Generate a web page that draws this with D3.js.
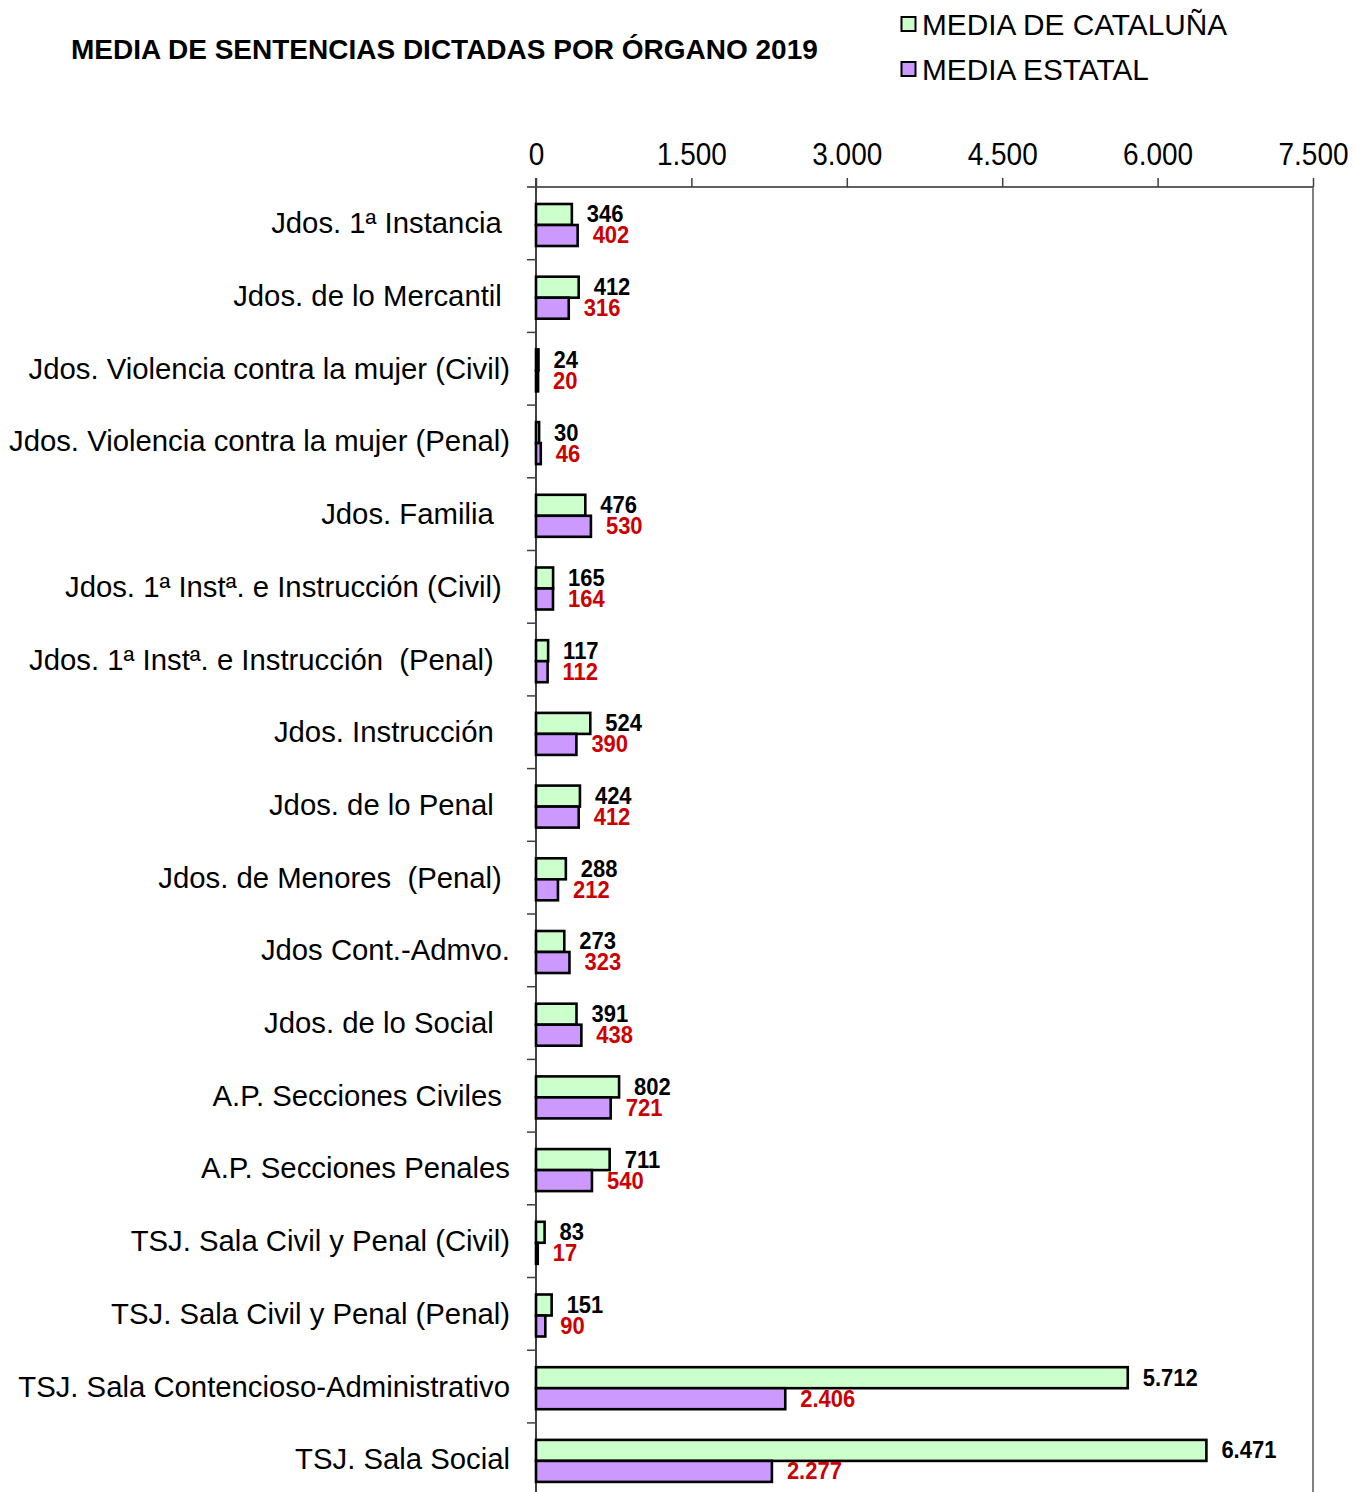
<!DOCTYPE html>
<html>
<head>
<meta charset="utf-8">
<script src="https://cdn.jsdelivr.net/npm/d3@7/dist/d3.min.js"></script>
<style>
  html, body { margin: 0; padding: 0; background: #fff; }
  svg { display: block; font-family: "Liberation Sans", Arial, sans-serif; }
  .cat { white-space: pre; }
</style>
</head>
<body>
<svg id="chart" width="1354" height="1492"></svg>
<script>
const categories = [
  "Jdos. 1ª Instancia ",
  "Jdos. de lo Mercantil ",
  "Jdos. Violencia contra la mujer (Civil)",
  "Jdos. Violencia contra la mujer (Penal)",
  "Jdos. Familia  ",
  "Jdos. 1ª Instª. e Instrucción (Civil) ",
  "Jdos. 1ª Instª. e Instrucción  (Penal)  ",
  "Jdos. Instrucción  ",
  "Jdos. de lo Penal  ",
  "Jdos. de Menores  (Penal) ",
  "Jdos Cont.-Admvo.",
  "Jdos. de lo Social  ",
  "A.P. Secciones Civiles ",
  "A.P. Secciones Penales",
  "TSJ. Sala Civil y Penal (Civil)",
  "TSJ. Sala Civil y Penal (Penal)",
  "TSJ. Sala Contencioso-Administrativo",
  "TSJ. Sala Social"
];
const cataluna = [346, 412, 24, 30, 476, 165, 117, 524, 424, 288, 273, 391, 802, 711, 83, 151, 5712, 6471];
const estatal  = [402, 316, 20, 46, 530, 164, 112, 390, 412, 212, 323, 438, 721, 540, 17, 90, 2406, 2277];
const xTicks = [0, 1500, 3000, 4500, 6000, 7500];
const seriesNames = ["MEDIA DE CATALUÑA", "MEDIA ESTATAL"];
const seriesColors = ["#ccffcc", "#cc99ff"];
const labelColors = ["#000000", "#cc0000"];
const title = "MEDIA DE SENTENCIAS DICTADAS POR ÓRGANO 2019";

const svg = d3.select("#chart");
const mLeft = 536, mRight = 1313, mTop = 187;
const step = 72.7;
const mBottom = mTop + step * categories.length;

const es = d3.formatLocale({decimal: ",", thousands: ".", grouping: [3], currency: ["", "€"]});
const fmt = es.format(",d");

const x = d3.scaleLinear().domain([0, 7500]).range([mLeft, mRight]);
const y = d3.scaleBand().domain(d3.range(categories.length)).range([mTop, mBottom]).paddingInner(0).paddingOuter(0);

// Title
svg.append("text").attr("x", 71).attr("y", 59)
  .attr("font-size", 28).attr("font-weight", "bold").text(title);

// Legend
seriesNames.forEach((n, i) => {
  const ly = 17 + i * 45;
  svg.append("rect").attr("x", 901.5).attr("y", ly).attr("width", 14).attr("height", 14)
    .attr("fill", seriesColors[i]).attr("stroke", "#000").attr("stroke-width", 2);
  svg.append("text").attr("x", 922).attr("y", ly + 18).attr("font-size", 29.8).text(n);
});

// Right border
svg.append("line").attr("x1", mRight).attr("x2", mRight).attr("y1", mTop).attr("y2", mBottom)
  .attr("stroke", "#808080").attr("stroke-width", 2);

// Top axis
const ax = svg.append("g").attr("transform", `translate(0,${mTop})`)
  .call(d3.axisTop(x).tickValues(xTicks).tickFormat(fmt).tickSize(9).tickPadding(13).tickSizeOuter(0));
ax.select(".domain").attr("stroke", "#606060").attr("stroke-width", 2)
  .attr("d", `M${mLeft - 9},0H${mRight}`);
ax.selectAll(".tick line").attr("stroke", "#404040").attr("stroke-width", 1.5);
ax.selectAll(".tick text").attr("font-size", 28).attr("fill", "#000")
  .attr("font-family", "'Liberation Sans', Arial, sans-serif")
  .attr("transform", "scale(1,1.1)").attr("y", -22 / 1.1);

// Left axis line and separator ticks
svg.append("line").attr("x1", mLeft).attr("x2", mLeft).attr("y1", mTop - 9).attr("y2", mBottom)
  .attr("stroke", "#404040").attr("stroke-width", 2);
svg.selectAll("line.sep").data(d3.range(1, categories.length)).join("line")
  .attr("class", "sep")
  .attr("x1", mLeft - 9).attr("x2", mLeft)
  .attr("y1", d => y(d)).attr("y2", d => y(d))
  .attr("stroke", "#404040").attr("stroke-width", 1.5);

// Category labels
svg.selectAll("text.cat").data(categories).join("text")
  .attr("class", "cat")
  .attr("x", 510).attr("y", (d, i) => y(i) + y.bandwidth() / 2 + 10)
  .attr("text-anchor", "end").attr("font-size", 29.3)
  .text(d => d);

// Bars
const barH = 21, off = 17, sy = 1.08;
const series = [cataluna, estatal];
series.forEach((vals, s) => {
  const g = svg.append("g");
  g.selectAll("rect").data(vals).join("rect")
    .attr("x", mLeft).attr("y", (d, i) => y(i) + off + s * barH)
    .attr("width", d => x(d) - mLeft).attr("height", barH)
    .attr("fill", seriesColors[s]).attr("stroke", "#000").attr("stroke-width", 2.6);
  g.selectAll("text").data(vals).join("text")
    .attr("transform", `scale(1,${sy})`)
    .attr("x", d => x(d) + 15)
    .attr("y", (d, i) => (y(i) + off + s * barH + barH / 2 + 8) / sy)
    .attr("font-size", 22).attr("font-weight", "bold").attr("fill", labelColors[s])
    .text(d => fmt(d));
});
</script>
</body>
</html>
